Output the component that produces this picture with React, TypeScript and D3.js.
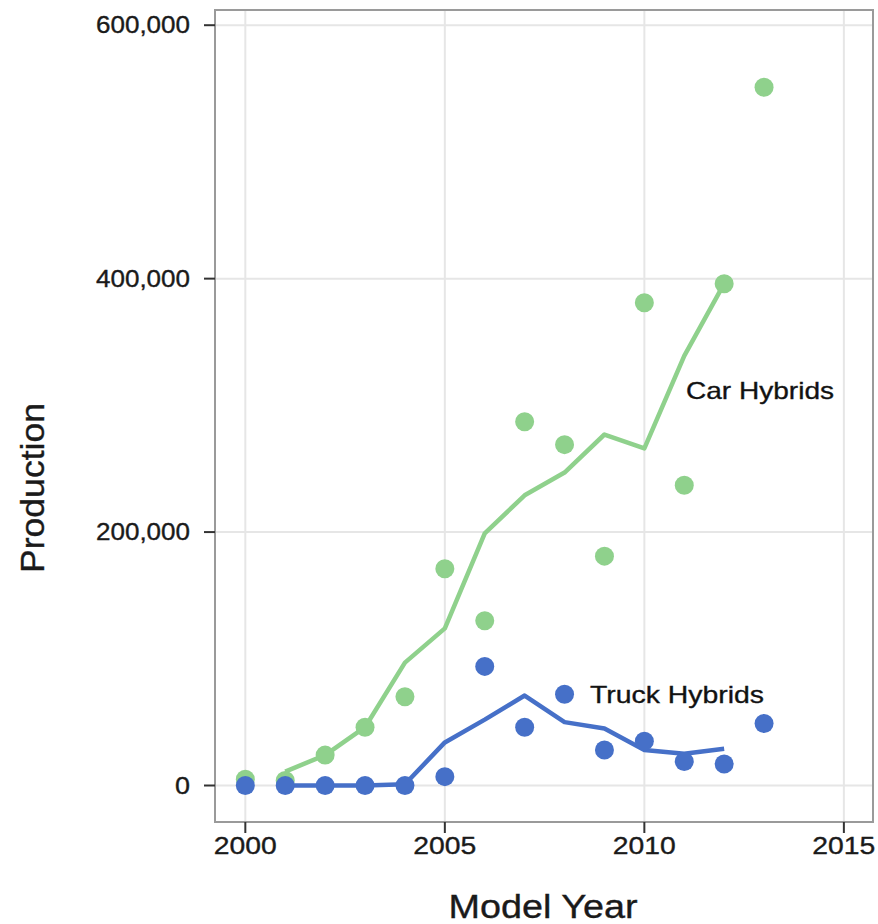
import React from "react";
import * as d3 from "d3";

const years = [2000, 2001, 2002, 2003, 2004, 2005, 2006, 2007, 2008, 2009, 2010, 2011, 2012, 2013];
const carPoints = [5000, 4000, 24000, 46000, 70000, 171000, 130000, 287000, 269000, 181000, 381000, 237000, 396000, 551000];
const truckPoints = [0, 0, 0, 0, 0, 7000, 94000, 46000, 72000, 28000, 35000, 19000, 17000, 49000];

const lineYears = [2001, 2002, 2003, 2004, 2005, 2006, 2007, 2008, 2009, 2010, 2011, 2012];
const carLine = [11000, 24000, 46000, 97000, 124000, 199000, 229000, 247000, 277000, 266000, 339000, 396000];
const truckLine = [0, 0, 0, 1000, 34000, 52000, 71000, 50000, 45000, 28000, 25000, 29000];

const xTicks = [2000, 2005, 2010, 2015];
const yTicks = [0, 200000, 400000, 600000];

const GREEN = "#8fd18c";
const BLUE = "#4670c8";
const FONT = "'Liberation Sans', Arial, sans-serif";

export default function App() {
  const W = 878, H = 924;
  const left = 215, right = 873, top = 10, bottom = 822;
  const x = d3.scaleLinear().domain([1999.24, 2015.73]).range([left, right]);
  const y = d3.scaleLinear().domain([-28800, 612000]).range([bottom, top]);
  const fmt = d3.format(",");
  const line = d3.line<[number, number]>().x(d => x(d[0])).y(d => y(d[1]));
  const carPath = line(lineYears.map((yr, i) => [yr, carLine[i]]) as [number, number][]) || "";
  const truckPath = line(lineYears.map((yr, i) => [yr, truckLine[i]]) as [number, number][]) || "";
  const textStyle = { stroke: "#1a1a1a", strokeWidth: 0.35 } as React.CSSProperties;

  return (
    <svg width={W} height={H} style={{ position: "absolute", left: 0, top: 0, background: "#fff" }} fontFamily={FONT}>
      <rect x={0} y={0} width={W} height={H} fill="#fff" />
      {xTicks.map(t => (
        <line key={"gx" + t} x1={x(t)} x2={x(t)} y1={top} y2={bottom} stroke="#e6e6e6" strokeWidth={2} />
      ))}
      {yTicks.map(t => (
        <line key={"gy" + t} x1={left} x2={right} y1={y(t)} y2={y(t)} stroke="#e6e6e6" strokeWidth={2} />
      ))}
      <path d={carPath} fill="none" stroke={GREEN} strokeWidth={4.5} strokeLinejoin="round" />
      <path d={truckPath} fill="none" stroke={BLUE} strokeWidth={4.5} strokeLinejoin="round" />
      {years.map((yr, i) => (
        <circle key={"c" + yr} cx={x(yr)} cy={y(carPoints[i])} r={9.5} fill={GREEN} />
      ))}
      {years.map((yr, i) => (
        <circle key={"t" + yr} cx={x(yr)} cy={y(truckPoints[i])} r={9.5} fill={BLUE} />
      ))}
      <rect x={left} y={top} width={right - left} height={bottom - top} fill="none" stroke="#9a9a9a" strokeWidth={2} />
      {yTicks.map(t => (
        <g key={"yt" + t}>
          <line x1={left - 11} x2={left} y1={y(t)} y2={y(t)} stroke="#333" strokeWidth={2} />
          <text x={190} y={y(t)} dy="0.36em" textAnchor="end" fontSize={23} fill="#1a1a1a" style={textStyle}
            textLength={t === 0 ? 15 : 94} lengthAdjust="spacingAndGlyphs">{fmt(t)}</text>
        </g>
      ))}
      {xTicks.map(t => (
        <g key={"xt" + t}>
          <line x1={x(t)} x2={x(t)} y1={bottom} y2={bottom + 11} stroke="#333" strokeWidth={2} />
          <text x={x(t)} y={854} textAnchor="middle" fontSize={24} fill="#1a1a1a" style={textStyle}
            textLength={63} lengthAdjust="spacingAndGlyphs">{t}</text>
        </g>
      ))}
      <text x={543} y={918} textAnchor="middle" fontSize={33} fill="#1a1a1a" style={textStyle}
        textLength={189} lengthAdjust="spacingAndGlyphs">Model Year</text>
      <text transform={`translate(44,488) rotate(-90)`} textAnchor="middle" fontSize={34} fill="#1a1a1a" style={textStyle}
        textLength={170} lengthAdjust="spacingAndGlyphs">Production</text>
      <text x={686} y={399} fontSize={24} fill="#111" style={textStyle} textLength={148} lengthAdjust="spacingAndGlyphs">Car Hybrids</text>
      <text x={590} y={703} fontSize={24} fill="#111" style={textStyle} textLength={174} lengthAdjust="spacingAndGlyphs">Truck Hybrids</text>
    </svg>
  );
}
